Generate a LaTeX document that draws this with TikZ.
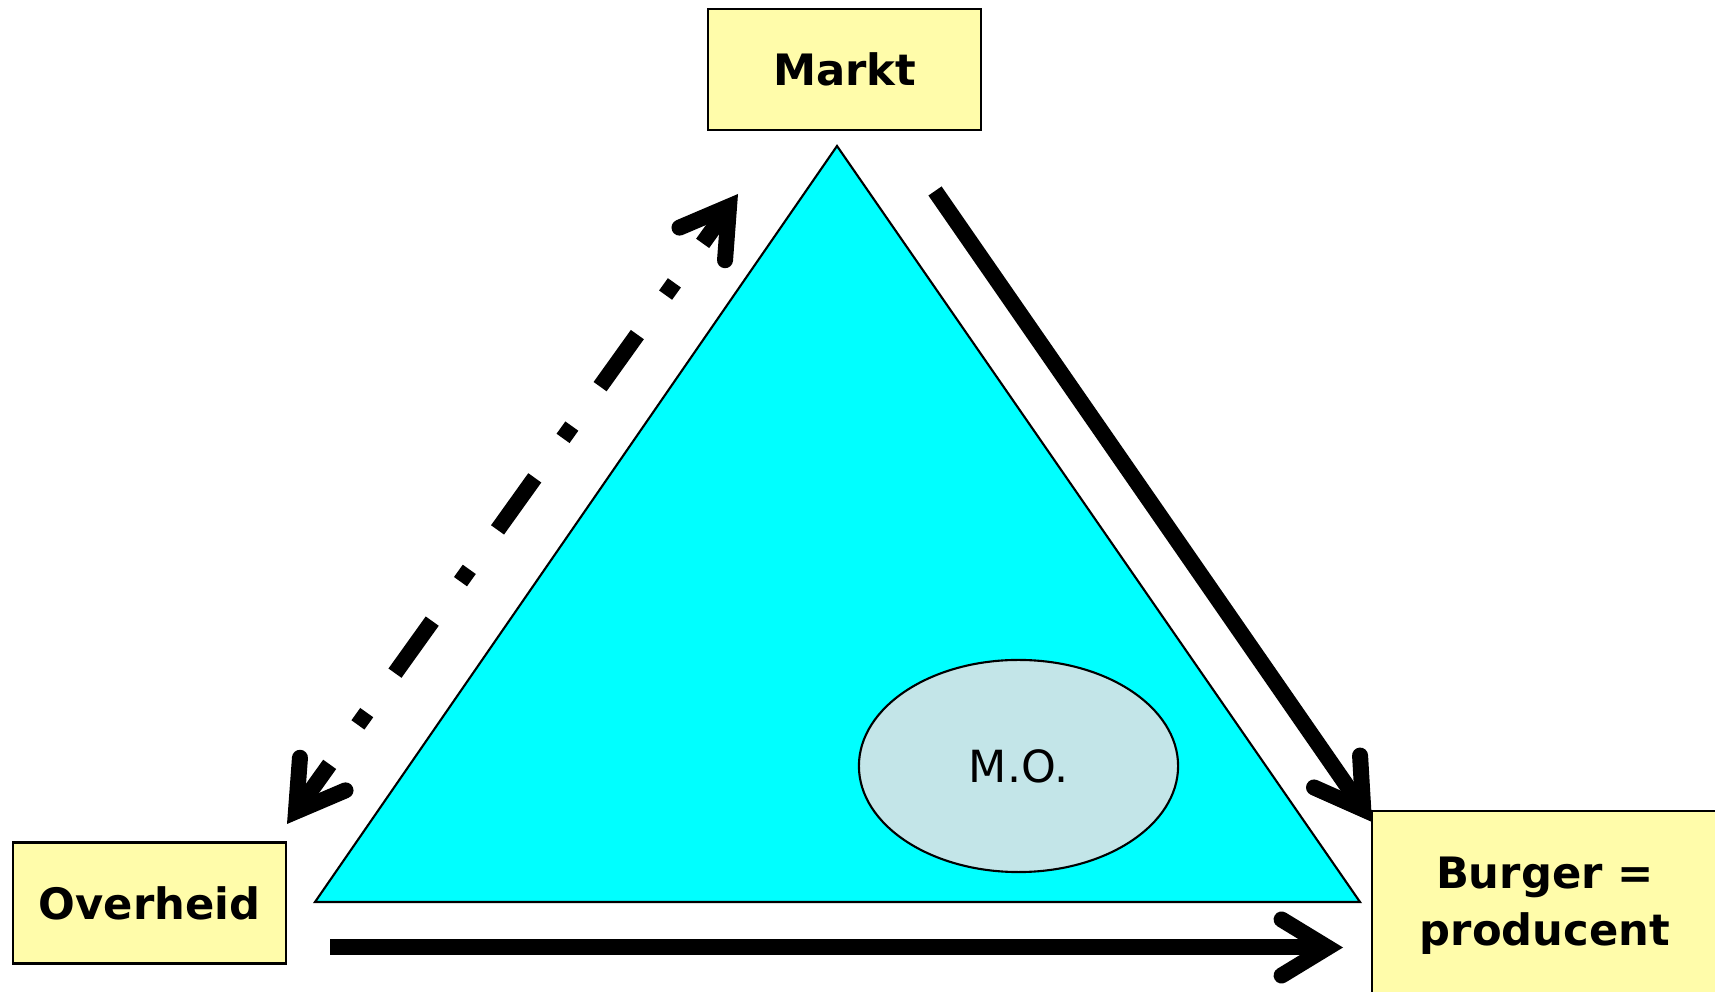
\documentclass[tikz,border=0pt]{standalone}
\usepackage{fontspec}
\setmainfont{DejaVu Sans}
\usetikzlibrary{arrows.meta, shapes.geometric}

\definecolor{boxyellow}{HTML}{FFFCAA}
\definecolor{moblue}{HTML}{C3E5E8}
\definecolor{aqua}{RGB}{0,255,255}

\begin{document}
\begin{tikzpicture}[x=0.01cm, y=-0.01cm,
    actor/.style={draw, line width=0.6pt, fill=boxyellow, inner sep=0pt, align=center, font=\fontsize{12.3}{16.3}\selectfont\bfseries},
    barb/.tip={Straight Barb[length=4.6mm, width=5.6mm, line cap=round, line join=miter]},
    arr/.style={-barb, line width=4.55pt},
    darr/.style={barb-barb, line width=4.55pt, dash pattern=on 18.2pt off 13.8pt on 4.3pt off 13.8pt, dash phase=4pt}
]
\clip (0,0) rectangle (1715,992);
\useasboundingbox (0,0) rectangle (1715,992);

\coordinate (top) at (837,146);
\coordinate (left) at (315,902);
\coordinate (right) at (1360,902);
\filldraw[fill=aqua, line width=0.6pt] (top) -- (left) -- (right) -- cycle;

\node[draw, ellipse, line width=0.6pt, fill=moblue, minimum width=3.19cm, minimum height=2.12cm, inner sep=0pt, font=\fontsize{12.6}{15}\selectfont] (mo) at (1018.5,766) {M.O.};

\node[actor, minimum width=2.73cm, minimum height=1.21cm] (mk) at (844.5,69.5) {Markt};
\node[actor, minimum width=2.72cm, minimum height=1.21cm] (ov) at (149.5,903) {Overheid};
\node[actor, minimum width=3.46cm, minimum height=1.9cm] (bp) at (1545,906) {Burger =\\producent};

\coordinate (mkout) at (935,191);
\coordinate (bpin) at (1372,822);
\coordinate (ovout) at (330,947.5);
\coordinate (bpbase) at (1343,947.5);
\coordinate (ovtip) at (287,824);
\coordinate (mktip) at (738,194);

\draw[arr] (mkout) -- (bpin);
\draw[arr] (ovout) -- (bpbase);
\draw[darr] (ovtip) -- (mktip);
\end{tikzpicture}
\end{document}
